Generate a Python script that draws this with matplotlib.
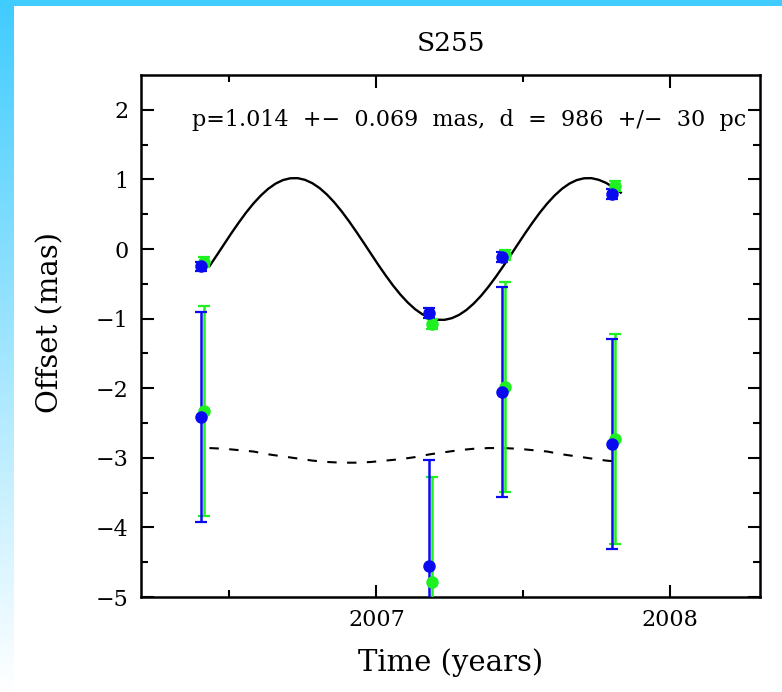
import numpy as np
import matplotlib
matplotlib.use('Agg')
import matplotlib.pyplot as plt

# epochs (years) and offsets (mas), blue = one spot, green = the other
t_blue = [2006.404, 2007.178, 2007.428, 2007.802]
t_green = [2006.415, 2007.188, 2007.438, 2007.813]

ra_blue = [-0.25, -0.92, -0.11, 0.79]
ra_green = [-0.19, -1.08, -0.09, 0.91]
ra_err = [0.07, 0.07, 0.07, 0.07]

dec_blue = [-2.41, -4.55, -2.05, -2.80]
dec_green = [-2.33, -4.79, -1.98, -2.73]
dec_err = [1.51, 1.52, 1.51, 1.51]

# model curves
t_model = [2006.432, 2006.457, 2006.482, 2006.507, 2006.532, 2006.557, 2006.582, 2006.607,
           2006.632, 2006.657, 2006.682, 2006.707, 2006.732, 2006.757, 2006.782, 2006.807,
           2006.832, 2006.857, 2006.882, 2006.907, 2006.932, 2006.957, 2006.982, 2007.007,
           2007.032, 2007.057, 2007.082, 2007.107, 2007.132, 2007.157, 2007.182, 2007.207,
           2007.232, 2007.257, 2007.282, 2007.307, 2007.332, 2007.357, 2007.382, 2007.407,
           2007.432, 2007.457, 2007.482, 2007.507, 2007.532, 2007.557, 2007.582, 2007.607,
           2007.632, 2007.657, 2007.682, 2007.707, 2007.732, 2007.757, 2007.782, 2007.807,
           2007.832]
ra_model = [-0.247, -0.090, 0.070, 0.229, 0.381, 0.525, 0.655, 0.769, 0.865, 0.939,
            0.990, 1.016, 1.018, 0.994, 0.946, 0.875, 0.782, 0.670, 0.541, 0.399,
            0.247, 0.090, -0.070, -0.229, -0.381, -0.525, -0.655, -0.769, -0.865, -0.939,
            -0.990, -1.016, -1.018, -0.994, -0.946, -0.875, -0.782, -0.670, -0.541, -0.399,
            -0.247, -0.090, 0.070, 0.229, 0.381, 0.525, 0.655, 0.769, 0.865, 0.939,
            0.990, 1.016, 1.018, 0.994, 0.950, 0.885, 0.810]

t_dash = t_model[::2]
dec_model = [-2.86, -2.87, -2.89, -2.91, -2.95, -2.98, -3.01, -3.04, -3.06, -3.07,
             -3.07, -3.06, -3.04, -3.02, -2.99, -2.95, -2.92, -2.89, -2.87, -2.86,
             -2.86, -2.87, -2.89, -2.91, -2.95, -2.98, -3.01, -3.04, -3.06]

plt.rcParams['font.family'] = ['DejaVu Serif']

fig = plt.figure(figsize=(7.82, 6.92), dpi=100)

# slide background: cyan bar on top, fading bar on the left
bg = fig.add_axes([0, 0, 1, 1])
bg.axis('off')
grad = np.linspace(0, 1, 256).reshape(-1, 1)
cyan = np.array([0.25, 0.80, 1.0])
img = cyan * (1 - grad[..., None]) + np.ones(3) * grad[..., None]
bg.imshow(img, extent=[0, 14, 692, 0], aspect='auto')
bg.add_patch(plt.Rectangle((0, 0), 782, 6, color=cyan, lw=0))
bg.set_xlim(0, 782)
bg.set_ylim(692, 0)

ax = fig.add_axes([141.3 / 782, 95 / 692, 618.7 / 782, 522 / 692])

ax.plot(t_model, ra_model, color='black', lw=1.7, zorder=2)
ax.plot(t_dash, dec_model, color='black', lw=1.5, dashes=(4.5, 5), zorder=2)

for t, y, e, c in [(t_green, ra_green, ra_err, '#1ff01f'), (t_blue, ra_blue, ra_err, '#0a0af0'),
                   (t_green, dec_green, dec_err, '#1ff01f'), (t_blue, dec_blue, dec_err, '#0a0af0')]:
    ax.errorbar(t, y, yerr=e, fmt='o', color=c, ms=8, elinewidth=1.8, capsize=4,
                capthick=1.6, zorder=3)

ax.set_xlim(2006.2, 2008.306)
ax.set_ylim(-5, 2.5)
ax.set_xticks([2007, 2008])
ax.set_xticks([2006.5, 2007.5], minor=True)
ax.set_yticks([-5, -4, -3, -2, -1, 0, 1, 2])
ax.set_yticks(np.arange(-4.5, 2.5, 1), minor=True)
ax.set_yticklabels(['\u22125', '\u22124', '\u22123', '\u22122', '\u22121', '0', '1', '2'])
ax.tick_params(which='major', direction='in', length=9, width=1.5, top=True, right=True,
               labelsize=16, pad=9)
ax.tick_params(which='minor', direction='in', length=5, width=1.5, top=True, right=True)
for s in ax.spines.values():
    s.set_linewidth(1.8)

ax.text(0.082, 0.914, 'p=1.014  +\u2212  0.069  mas,  d  =  986  +/\u2212  30  pc',
        transform=ax.transAxes, fontsize=16, va='center', ha='left')

ax.set_title('S255', fontsize=19, pad=17)
ax.set_xlabel('Time (years)', fontsize=21, labelpad=12)
ax.set_ylabel('Offset (mas)', fontsize=21)
ax.yaxis.set_label_coords(-0.125, 0.525)

fig.savefig('out.png', dpi=100)
